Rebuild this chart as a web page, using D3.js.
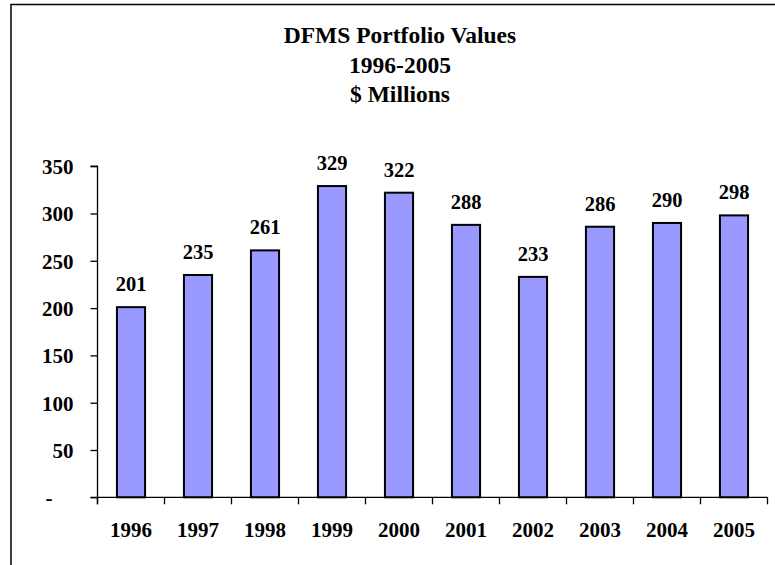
<!DOCTYPE html>
<html>
<head>
<meta charset="utf-8">
<script src="https://cdn.jsdelivr.net/npm/d3@7"></script>
<style>
  html, body { margin: 0; padding: 0; background: #fff; }
  svg { display: block; }
  text { font-family: "Liberation Serif", "Times New Roman", serif; font-weight: bold; fill: #000; }
</style>
</head>
<body>
<script>
const years = ["1996","1997","1998","1999","2000","2001","2002","2003","2004","2005"];
const values = [201, 235, 261, 329, 322, 288, 233, 286, 290, 298];
const yTicks = [0, 50, 100, 150, 200, 250, 300, 350];
const titleLines = ["DFMS Portfolio Values", "1996-2005", "$ Millions"];

const W = 775, H = 565;
const svg = d3.select("body").append("svg").attr("width", W).attr("height", H);

// chart frame (partially outside window)
svg.append("rect")
  .attr("x", 11).attr("y", 4.5).attr("width", 800).attr("height", 600)
  .attr("fill", "none").attr("stroke", "#000").attr("stroke-width", 1.5);

const x0 = 97.5, x1 = 767.5, yTop = 166.2, yBot = 497.3;
const x = d3.scaleBand().domain(years).range([x0, x1]).paddingInner(0.58).paddingOuter(0.29);
const y = d3.scaleLinear().domain([0, 350]).range([yBot, yTop]);

// title
svg.append("g").selectAll("text").data(titleLines).join("text")
  .attr("x", 400).attr("y", (d, i) => 43 + i * 29.5)
  .attr("text-anchor", "middle").style("font-size", "23.5px")
  .text(d => d);

// bars
svg.append("g").selectAll("rect").data(values).join("rect")
  .attr("x", (d, i) => x(years[i]))
  .attr("y", d => y(d))
  .attr("width", x.bandwidth())
  .attr("height", d => y(0) - y(d))
  .attr("fill", "#9999FF").attr("stroke", "#000").attr("stroke-width", 2);

// value labels
svg.append("g").selectAll("text").data(values).join("text")
  .attr("x", (d, i) => x(years[i]) + x.bandwidth() / 2)
  .attr("y", d => y(d) - 16)
  .attr("text-anchor", "middle").style("font-size", "20.5px")
  .text(d => d);

// y axis
const yAxis = d3.axisLeft(y).tickValues(yTicks).tickSize(7).tickPadding(17)
  .tickFormat(d => d === 0 ? "-" : d);
const gy = svg.append("g").attr("transform", `translate(${x0},0)`).call(yAxis);
gy.select(".domain").attr("d", `M-7,${yTop}H0V${yBot + 7}`).attr("stroke", "#000").attr("stroke-width", 1.3);
gy.selectAll(".tick line").attr("stroke", "#000").attr("stroke-width", 1.3);
gy.selectAll(".tick text").style("font-size", "21px").style("font-family", "Liberation Serif, serif")
  .style("font-weight", "bold").attr("dy", "0.35em")
  .attr("x", d => d === 0 ? -45 : -24);

// x axis
const xTickScale = d3.scalePoint().domain(d3.range(years.length + 1)).range([x0, x1]);
const gx = svg.append("g").attr("transform", `translate(0,${yBot})`);
gx.append("path").attr("d", `M${x0 - 7},0H${x1}`).attr("stroke", "#000").attr("stroke-width", 1.3).attr("fill", "none");
gx.selectAll("line.tk").data(d3.range(years.length + 1)).join("line").attr("class", "tk")
  .attr("x1", d => xTickScale(d)).attr("x2", d => xTickScale(d))
  .attr("y1", 0).attr("y2", 7).attr("stroke", "#000").attr("stroke-width", 1.3);
gx.selectAll("text").data(years).join("text")
  .attr("x", d => x(d) + x.bandwidth() / 2).attr("y", 40)
  .attr("text-anchor", "middle").style("font-size", "21px")
  .text(d => d);
</script>
</body>
</html>
